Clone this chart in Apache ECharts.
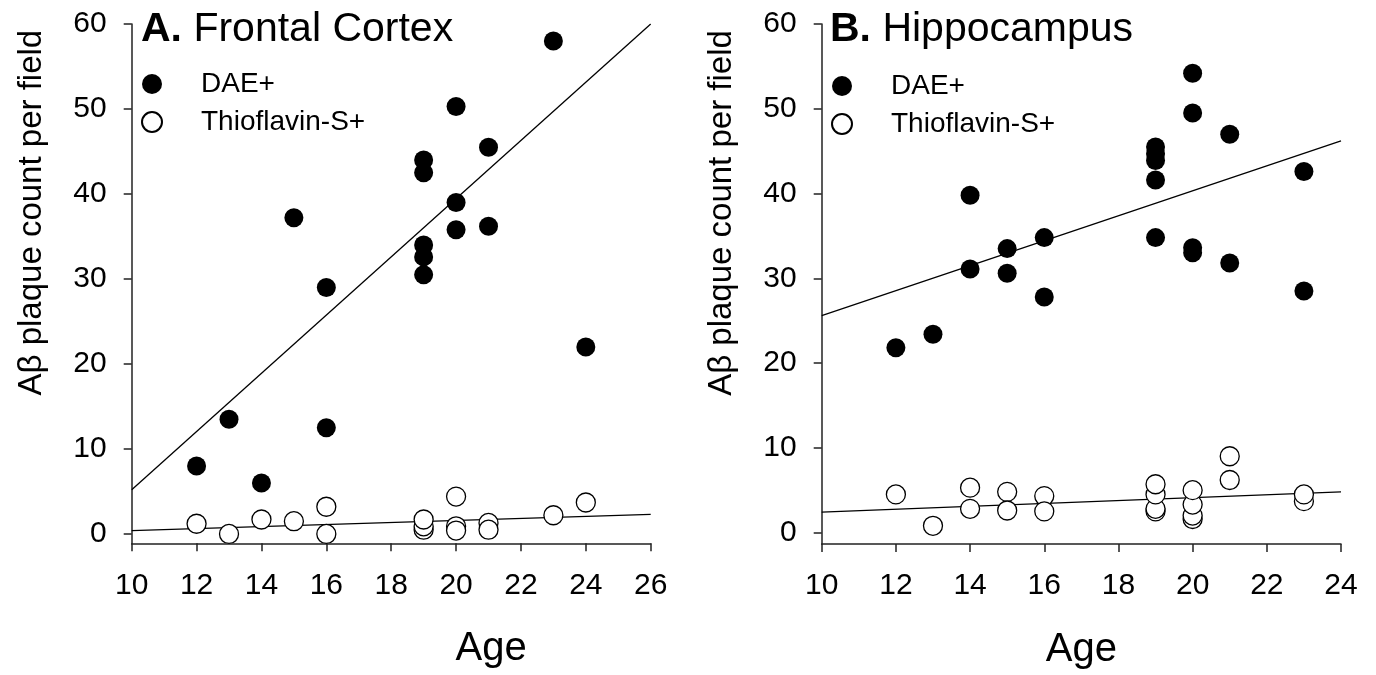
<!DOCTYPE html>
<html><head><meta charset="utf-8">
<script src="https://cdn.jsdelivr.net/npm/echarts@6/dist/echarts.min.js"></script>
<style>html,body{margin:0;padding:0;background:#fff}#c{width:1376px;height:675px}</style>
</head><body><div id="c"></div>
<script>
// ---------- data ----------
const xTicksA = [10, 12, 14, 16, 18, 20, 22, 24, 26];
const xTicksB = [10, 12, 14, 16, 18, 20, 22, 24];
const yTicks = [0, 10, 20, 30, 40, 50, 60];

// Panel A: Frontal Cortex
const ageA_DAE = [12, 13, 14, 15, 16, 16, 19, 19, 19, 19, 19, 20, 20, 20, 21, 21, 23, 24];
const valA_DAE = [8.0, 13.5, 6.0, 37.2, 29.0, 12.5, 44.0, 42.5, 34.0, 32.6, 30.5, 50.3, 39.0, 35.8, 45.5, 36.2, 58.0, 22.0];
const ageA_ThS = [12, 13, 14, 15, 16, 16, 19, 19, 19, 20, 20, 20, 21, 21, 23, 24];
const valA_ThS = [1.2, 0.0, 1.7, 1.5, 3.2, 0.0, 0.5, 0.9, 1.7, 4.4, 0.9, 0.4, 1.3, 0.5, 2.2, 3.7];
const fitA_DAE_x = [10, 26];
const fitA_DAE_y = [5.2, 60.0];
const fitA_ThS_x = [10, 26];
const fitA_ThS_y = [0.4, 2.3];

// Panel B: Hippocampus
const ageB_DAE = [12, 13, 14, 14, 15, 15, 16, 16, 19, 19, 19, 19, 19, 20, 20, 20, 20, 21, 21, 23, 23];
const valB_DAE = [21.8, 23.4, 39.8, 31.1, 33.5, 30.6, 34.8, 27.8, 45.5, 44.7, 43.9, 41.6, 34.8, 54.2, 49.5, 33.6, 33.0, 47.0, 31.8, 42.6, 28.5];
const ageB_ThS = [12, 13, 14, 14, 15, 15, 16, 16, 19, 19, 19, 19, 20, 20, 20, 20, 21, 21, 23, 23];
const valB_ThS = [4.5, 0.8, 5.3, 2.8, 4.8, 2.6, 4.3, 2.5, 2.5, 2.8, 4.5, 5.7, 1.6, 2.0, 3.3, 5.0, 9.0, 6.2, 3.7, 4.5];
const fitB_DAE_x = [10, 24];
const fitB_DAE_y = [25.6, 46.2];
const fitB_ThS_x = [10, 24];
const fitB_ThS_y = [2.4, 4.8];

// ---------- helpers ----------
const zip = (a, b) => a.map((v, i) => [v, b[i]]);
const FONT = '"Liberation Sans", Arial, Helvetica, sans-serif';
const AX = '#222';

function xAxis(gi, ticks, max, namePad) {
  return {
    type: 'value', gridIndex: gi, min: 10, max: max, interval: 2,
    axisLine: { show: true, onZero: false, lineStyle: { color: AX, width: 1.5 } },
    axisTick: { show: true, inside: false, length: 8, customValues: ticks, lineStyle: { color: AX, width: 1.5 } },
    axisLabel: { color: '#000', fontSize: 30, fontFamily: FONT, margin: 27, customValues: ticks },
    splitLine: { show: false },
    name: 'Age', nameLocation: 'middle', nameGap: 86,
    nameTextStyle: { color: '#000', fontSize: 40, fontFamily: FONT, padding: namePad }
  };
}
function yAxis(gi, min) {
  return {
    type: 'value', gridIndex: gi, min: min, max: 60,
    axisLine: { show: true, onZero: false, lineStyle: { color: AX, width: 1.5 } },
    axisTick: { show: true, inside: false, length: 8, customValues: yTicks, lineStyle: { color: AX, width: 1.5 } },
    axisLabel: { color: '#000', fontSize: 30, fontFamily: FONT, margin: 25, customValues: yTicks },
    splitLine: { show: false },
    name: 'Aβ plaque count per field', nameLocation: 'middle', nameGap: 83, nameRotate: 90,
    nameTextStyle: { color: '#000', fontSize: 33, fontFamily: FONT, padding: [0, 0, 0, 142] }
  };
}
function filled(name, gi, data) {
  return { name, type: 'scatter', xAxisIndex: gi, yAxisIndex: gi, data, symbol: 'circle', symbolSize: 19,
    itemStyle: { color: '#000', borderColor: '#000', borderWidth: 0, opacity: 1 }, z: 4 };
}
function open(name, gi, data) {
  return { name, type: 'scatter', xAxisIndex: gi, yAxisIndex: gi, data, symbol: 'circle', symbolSize: 19,
    itemStyle: { color: '#fff', borderColor: '#000', borderWidth: 1.3, opacity: 1 }, z: 4 };
}
function fit(gi, data) {
  return { type: 'line', xAxisIndex: gi, yAxisIndex: gi, data, symbol: 'none', silent: true,
    lineStyle: { color: '#000', width: 1.3 }, z: 2, legendHoverLink: false };
}
function legend(left, top) {
  return {
    orient: 'vertical', left, top, padding: 0, itemGap: 10, itemWidth: 20, itemHeight: 20,
    data: ['DAE+', 'Thioflavin-S+'], selectedMode: false,
    textStyle: { color: '#000', fontSize: 28, fontFamily: FONT, lineHeight: 28, padding: [0, 0, 0, 34] }
  };
}
function titleText(label, text, left) {
  return { text: '{b|' + label + '} {r|' + text + '}', left, top: 9, padding: 0,
    textStyle: { fontWeight: 'normal', fontSize: 41, fontFamily: FONT, color: '#000',
      rich: { b: { fontSize: 41, fontWeight: 'bold', fontFamily: FONT, color: '#000' },
              r: { fontSize: 41, fontWeight: 'normal', fontFamily: FONT, color: '#000' } } } };
}

const chart = echarts.init(document.getElementById('c'), null, { renderer: 'canvas' });
chart.setOption({
  animation: false,
  backgroundColor: '#fff',
  title: [titleText('A.', 'Frontal Cortex', 141), titleText('B.', 'Hippocampus', 830)],
  legend: [legend(141, 70), legend(831, 72)],
  grid: [
    { left: 131.7, right: 725.3, top: 24, bottom: 131.7, containLabel: false },
    { left: 821.7, right: 35, top: 24, bottom: 128.5, containLabel: false }
  ],
  xAxis: [xAxis(0, xTicksA, 26, [0, 0, 0, 200]), xAxis(1, xTicksB, 24, [0, 0, 0, 0])],
  yAxis: [yAxis(0, -1.1), yAxis(1, -1.35)],
  series: [
    fit(0, zip(fitA_DAE_x, fitA_DAE_y)),
    fit(0, zip(fitA_ThS_x, fitA_ThS_y)),
    filled('DAE+', 0, zip(ageA_DAE, valA_DAE)),
    open('Thioflavin-S+', 0, zip(ageA_ThS, valA_ThS)),
    fit(1, zip(fitB_DAE_x, fitB_DAE_y)),
    fit(1, zip(fitB_ThS_x, fitB_ThS_y)),
    filled('DAE+', 1, zip(ageB_DAE, valB_DAE)),
    open('Thioflavin-S+', 1, zip(ageB_ThS, valB_ThS))
  ]
});
</script></body></html>
